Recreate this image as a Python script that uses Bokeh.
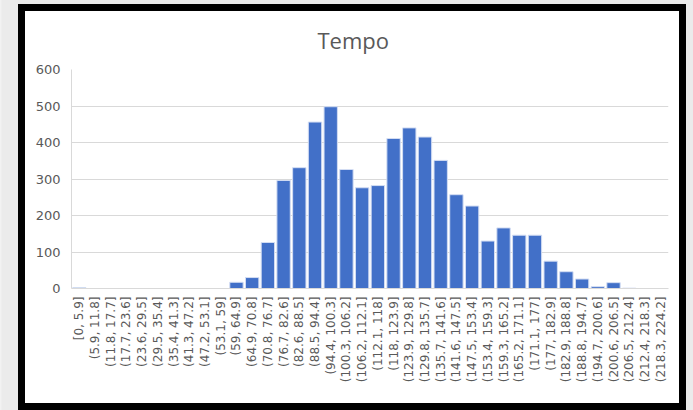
import math
from bokeh.plotting import figure
from bokeh.models import ColumnDataSource, FactorRange, Range1d, FixedTicker
from bokeh.embed import file_html
from bokeh.resources import INLINE

categories = ["[0, 5.9]", "(5.9, 11.8]", "(11.8, 17.7]", "(17.7, 23.6]", "(23.6, 29.5]",
              "(29.5, 35.4]", "(35.4, 41.3]", "(41.3, 47.2]", "(47.2, 53.1]", "(53.1, 59]",
              "(59, 64.9]", "(64.9, 70.8]", "(70.8, 76.7]", "(76.7, 82.6]", "(82.6, 88.5]",
              "(88.5, 94.4]", "(94.4, 100.3]", "(100.3, 106.2]", "(106.2, 112.1]", "(112.1, 118]",
              "(118, 123.9]", "(123.9, 129.8]", "(129.8, 135.7]", "(135.7, 141.6]", "(141.6, 147.5]",
              "(147.5, 153.4]", "(153.4, 159.3]", "(159.3, 165.2]", "(165.2, 171.1]", "(171.1, 177]",
              "(177, 182.9]", "(182.9, 188.8]", "(188.8, 194.7]", "(194.7, 200.6]", "(200.6, 206.5]",
              "(206.5, 212.4]", "(212.4, 218.3]", "(218.3, 224.2]"]
counts = [2, 0, 0, 0, 0, 0, 0, 0, 0, 0,
          17, 30, 126, 296, 331, 456, 498, 326, 276, 282,
          411, 440, 415, 351, 257, 226, 130, 166, 146, 146,
          75, 46, 26, 5, 16, 1, 0, 0]
y_ticks = [0, 100, 200, 300, 400, 500, 600]
title_text = "Tempo"

source = ColumnDataSource(data=dict(cat=categories, count=counts))

W, H = 668, 406
p = figure(width=W, height=H, x_range=FactorRange(*categories),
           y_range=Range1d(0, 600), output_backend="svg", toolbar_location=None,
           min_border_left=53, min_border_right=18, min_border_top=65, min_border_bottom=122,
           styles={"margin-left": "18px", "margin-top": "4px",
                   "background-color": "white",
                   "box-shadow": "inset 0 0 0 7px black, 0 0 3px 18px #ebebeb"})

p.vbar(x="cat", top="count", width=0.85, source=source,
       fill_color="#4270C8", line_color="#d3ddf3", line_width=1)

p.title.text = title_text
p.title.align = "left"
p.title.offset = 246
p.title.vertical_align = "top"
p.title.standoff = 26
p.title.text_font = "Open Sans"
p.title.text_font_size = "22px"
p.title.text_font_style = "normal"
p.title.text_color = "#595959"

p.outline_line_color = None
p.background_fill_color = "white"
p.border_fill_color = None

p.xgrid.grid_line_color = None
p.ygrid.grid_line_color = "#d9d9d9"
p.ygrid.grid_line_width = 1
p.yaxis.ticker = FixedTicker(ticks=y_ticks)

p.xaxis.major_label_orientation = math.pi / 2
p.xaxis.major_tick_line_color = None
p.xaxis.minor_tick_line_color = None
p.xaxis.major_tick_out = 0
p.xaxis.major_tick_in = 0
p.xaxis.axis_line_color = "#d9d9d9"
p.xaxis.major_label_standoff = 8
p.xaxis.major_label_text_font = "DejaVu Sans"
p.xaxis.major_label_text_font_size = "12px"
p.xaxis.major_label_text_color = "#595959"

p.yaxis.major_tick_line_color = None
p.yaxis.minor_tick_line_color = None
p.yaxis.major_tick_out = 0
p.yaxis.major_tick_in = 0
p.yaxis.axis_line_color = "#d9d9d9"
p.yaxis.major_label_standoff = 11
p.yaxis.major_label_text_font = "DejaVu Sans"
p.yaxis.major_label_text_font_size = "13px"
p.yaxis.major_label_text_color = "#595959"

open("out.html", "w").write(file_html(p, INLINE))
